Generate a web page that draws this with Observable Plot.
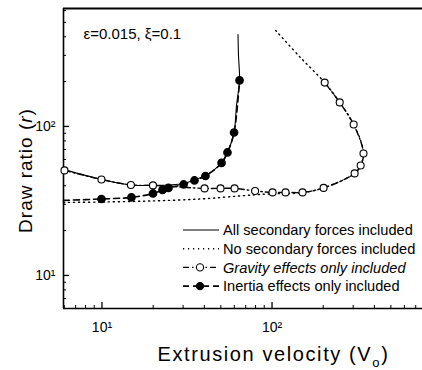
<!DOCTYPE html>
<html><head><meta charset="utf-8">
<script src="https://cdn.jsdelivr.net/npm/d3@7"></script>
<script src="https://cdn.jsdelivr.net/npm/@observablehq/plot@0.6"></script>
<style>body{margin:0;background:#fff} #chart svg{font-family:"Liberation Sans",Arial,sans-serif}</style>
</head><body><div id="chart"></div>
<script>
// ---- data ----
const allV = [5.94, 9.93, 14.8, 19.95, 25.3, 30.2, 35.0, 40.6, 45.3, 50.5, 54.7, 59.8, 61.8, 64.4, 63.5, 63.1];
const allR = [51.5, 44.1, 40.5, 40.2, 40.5, 41.4, 43.8, 46.9, 50.7, 57.3, 66.9, 91.1, 138, 203.6, 300, 414.5];

const noneV = [5.94, 9.8, 19.3, 38.0, 65.3, 98.0, 147, 201, 306, 332, 345, 332, 302, 250, 204, 147, 105];
const noneR = [30.9, 31.1, 31.6, 32.6, 34.2, 35.3, 35.8, 38.7, 48.4, 54.7, 65.9, 80.5, 103, 145, 197, 290, 441];

const gravV = [6.02, 9.93, 14.8, 19.95, 40.1, 49.8, 60.2, 79.5, 100.7, 120.1, 151.1, 201, 306, 332, 345, 302, 250, 204];
const gravR = [50.7, 44.1, 40.5, 40.2, 38.4, 38.4, 38.4, 36.9, 36.1, 36.1, 36.1, 38.7, 48.4, 54.7, 65.9, 103, 145, 197];

const inerV = [5.94, 9.93, 14.9, 19.95, 22.7, 24.6, 30.2, 35.0, 40.6, 50.5, 54.7, 59.8, 64.4];
const inerR = [31.9, 32.6, 33.4, 35.5, 37.5, 38.7, 40.8, 43.4, 46.5, 56.9, 66.9, 91.1, 203.6];

const xDomain = [5.94, 767];
const yDomain = [6.0, 619];
const xMajor = [10, 100];
const xTickLabels = ["10¹", "10²"];
const yMajor = [10, 100];
const yTickLabels = ["10¹", "10²"];
const xMinor = [6, 7, 8, 9, 20, 30, 40, 50, 60, 70, 80, 90, 200, 300, 400, 500, 600, 700];
const yMinor = [7, 8, 9, 20, 30, 40, 50, 60, 70, 80, 90, 200, 300, 400, 500, 600];

const legendLabels = ["All secondary forces included", "No secondary forces included", "Gravity effects only included", "Inertia effects only included"];
const annotation = "ε=0.015, ξ=0.1";
const xLabel = "Extrusion velocity (V";
const yLabel = "Draw ratio (";

// ---- layout ----
const W = 422, H = 370, mL = 63, mR = 0, mT = 8, mB = 62;
const innerW = W - mL - mR, innerH = H - mT - mB;
const rows = (vs, rs) => vs.map((v, i) => ({v, r: rs[i]}));
const allRows = rows(allV, allR), noneRows = rows(noneV, noneR), gravRows = rows(gravV, gravR), inerRows = rows(inerV, inerR);

const chart = Plot.plot({
  width: W, height: H, marginLeft: mL, marginRight: mR, marginTop: mT, marginBottom: mB,
  style: {background: "white", overflow: "visible", fontFamily: "Liberation Sans, Arial, sans-serif"},
  x: {type: "log", domain: xDomain},
  y: {type: "log", domain: yDomain},
  marks: [
    Plot.ruleX([xDomain[0]], {strokeWidth: 1.6}),
    Plot.ruleY([yDomain[0]], {strokeWidth: 1.6}),
    Plot.ruleY([yDomain[1]], {strokeWidth: 2}),
    Plot.ruleX(xMinor, {insetTop: innerH - 3, strokeWidth: 1}),
    Plot.ruleX(xMajor, {insetTop: innerH - 6, strokeWidth: 1.3}),
    Plot.ruleY(yMinor, {insetRight: innerW - 3, strokeWidth: 1}),
    Plot.ruleY(yMajor, {insetRight: innerW - 6, strokeWidth: 1.3}),
    Plot.axisX({ticks: xMajor, tickFormat: d => xTickLabels[xMajor.indexOf(d)], tickSize: 0, tickPadding: 14, fontSize: 14, label: null}),
    Plot.axisY({ticks: yMajor, tickFormat: d => yTickLabels[yMajor.indexOf(d)], tickSize: 0, tickPadding: 8, fontSize: 14, label: null}),
    Plot.line(noneRows, {x: "v", y: "r", stroke: "black", strokeWidth: 1.4, strokeDasharray: "1.2,3.8", curve: "catmull-rom"}),
    Plot.line(allRows, {x: "v", y: "r", stroke: "black", strokeWidth: 1.1, curve: "catmull-rom"}),
    Plot.line(gravRows, {x: "v", y: "r", stroke: "black", strokeWidth: 1.4, strokeDasharray: "6,3,1.5,3", curve: "catmull-rom"}),
    Plot.line(inerRows, {x: "v", y: "r", stroke: "black", strokeWidth: 1.6, strokeDasharray: "6,4", curve: "catmull-rom"}),
    Plot.dot(gravRows, {x: "v", y: "r", r: 3.5, fill: "white", stroke: "black", strokeWidth: 1.1}),
    Plot.dot(inerRows.slice(1), {x: "v", y: "r", r: 3.6, fill: "black", stroke: "black"}),
    Plot.text([annotation], {frameAnchor: "top-left", dx: 20, dy: 26, textAnchor: "start", lineAnchor: "middle", fontSize: 15}),
    Plot.text([xLabel], {frameAnchor: "bottom-left", dx: 94, dy: 46, textAnchor: "start", lineAnchor: "middle", fontSize: 20}),
    Plot.text([yLabel], {frameAnchor: "left", dx: -38, dy: 12, rotate: -90, textAnchor: "middle", lineAnchor: "middle", fontSize: 19})
  ]
});
document.getElementById("chart").append(chart);

const svg = d3.select(chart);
// subscript / italic parts of axis labels
svg.selectAll("text").filter(function(){ return this.textContent === xLabel; }).each(function(){
  const t = d3.select(this).attr("letter-spacing", 1.6); t.text(null);
  t.append("tspan").text(xLabel);
  t.append("tspan").attr("dy", 6).attr("font-size", 13).text("o");
  t.append("tspan").attr("dy", -6).text(")");
});
svg.selectAll("text").filter(function(){ return this.textContent === yLabel; }).each(function(){
  const t = d3.select(this).attr("letter-spacing", 1); t.text(null);
  t.append("tspan").text(yLabel);
  t.append("tspan").attr("font-style", "italic").text("r");
  t.append("tspan").text(")");
});

// legend
const styles = [
  {dash: null, w: 1.1, marker: null},
  {dash: "1.2,3.8", w: 1.4, marker: null},
  {dash: "6,3,1.5,3", w: 1.4, marker: "open"},
  {dash: "6,4", w: 1.6, marker: "filled"}
];
const lg = svg.append("g").attr("font-size", 14.6).attr("text-anchor", "start")
  .attr("font-family", "Liberation Sans, Arial, sans-serif");
legendLabels.forEach((label, i) => {
  const y = 230 + i * 18.7, s = styles[i];
  lg.append("line").attr("x1", 183).attr("x2", 219).attr("y1", y).attr("y2", y)
    .attr("stroke", "black").attr("stroke-width", s.w).attr("stroke-dasharray", s.dash);
  if (s.marker) lg.append("circle").attr("cx", 200).attr("cy", y).attr("r", 3.6)
    .attr("fill", s.marker === "open" ? "white" : "black").attr("stroke", "black").attr("stroke-width", 1.1);
  lg.append("text").attr("x", 223).attr("y", y).attr("dy", "0.35em").attr("text-anchor", "start")
    .attr("font-style", i === 2 ? "italic" : null).text(label);
});
</script>
</body></html>
